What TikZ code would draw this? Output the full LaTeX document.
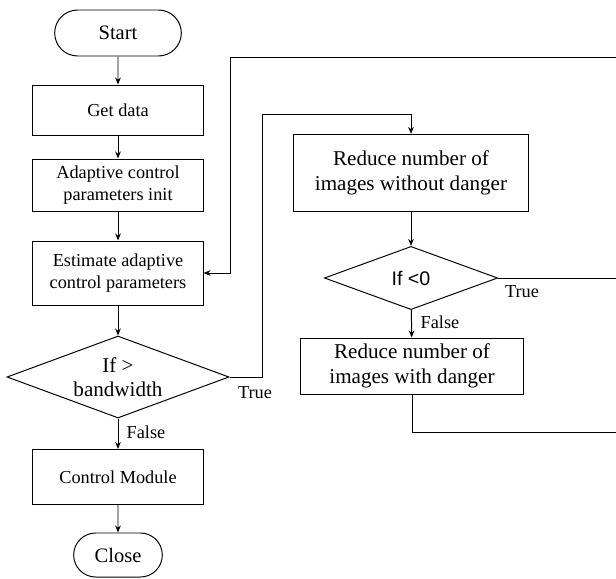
\documentclass[tikz,border=0pt]{standalone}
\usepackage{fontspec}
\setmainfont{Liberation Serif}
\newfontfamily\sansf{Liberation Sans}
\usetikzlibrary{shapes.geometric,shapes.misc,arrows.meta}

\begin{document}
\begin{tikzpicture}[
    x=0.025cm, y=-0.025cm,
    font=\fontsize{13}{15.5}\selectfont,
    process/.style={rectangle, draw=black, line width=0.7pt, minimum width=4.25cm, minimum height=1.25cm, align=center, inner sep=2pt},
    bigbox/.style={process, font=\fontsize{15}{17.8}\selectfont},
    terminal/.style={rounded rectangle, draw=black, line width=0.7pt, minimum height=1.15cm, align=center, font=\fontsize{14.6}{17}\selectfont},
    decision/.style={diamond, draw=black, line width=0.7pt, inner sep=0pt, aspect=2.7, align=center},
    arrow/.style={-{Stealth[length=5pt,width=4pt]}, line width=0.7pt},
    line/.style={line width=0.7pt}
]
\useasboundingbox (0,0) rectangle (616,578);

\node[terminal, minimum width=3.4cm] (start) at (118,33) {Start};
\node[process] (getdata) at (118,110) {Get data};
\node[process, minimum height=1.3cm] (init) at (118,185) {Adaptive control\\parameters init};
\node[process, minimum height=1.6cm] (estimate) at (118,273) {Estimate adaptive\\control parameters};
\node[decision, minimum width=5.55cm, minimum height=2.05cm, font=\fontsize{15}{17}\selectfont] (ifbw) at (118,377) {If >\\bandwidth};
\node[process, minimum height=1.38cm] (control) at (118,477) {Control Module};
\node[terminal, minimum width=2.45cm, minimum height=1.1cm] (close) at (118,555) {Close};

\node[bigbox, minimum width=5.88cm, minimum height=1.93cm] (reduce1) at (411,173) {Reduce number of\\images without danger};
\node[decision, minimum width=4.33cm, minimum height=1.58cm, font=\sansf\fontsize{14}{16}\selectfont] (ifzero) at (411,278) {If <0};
\node[bigbox, minimum width=5.55cm, minimum height=1.4cm] (reduce2) at (412,366) {Reduce number of\\images with danger};

\node (truebw) at (255,393) {True};
\node (falsebw) at (146,432) {False};
\node (truezero) at (522,292) {True};
\node (falsezero) at (440,322) {False};

\coordinate (up1) at (262,114);
\coordinate (up2) at (230,57);
\coordinate (edge1) at (616,57);
\coordinate (edge2) at (616,278);
\coordinate (edge3) at (616,432);

\draw[arrow] (start) -- (getdata);
\draw[arrow] (getdata) -- (init);
\draw[arrow] (init) -- (estimate);
\draw[arrow] (estimate) -- (ifbw);
\draw[arrow] (ifbw) -- (control);
\draw[arrow] (control) -- (close);

\draw[arrow] (ifbw.east) -| (up1) -| (reduce1.north);
\draw[arrow] (reduce1) -- (ifzero);
\draw[arrow] (ifzero) -- (reduce2);
\draw[line] (ifzero.east) -- (edge2);
\draw[line] (reduce2.south) |- (edge3);
\draw[arrow] (edge1) -- (up2) |- (estimate.east);

\end{tikzpicture}
\end{document}
